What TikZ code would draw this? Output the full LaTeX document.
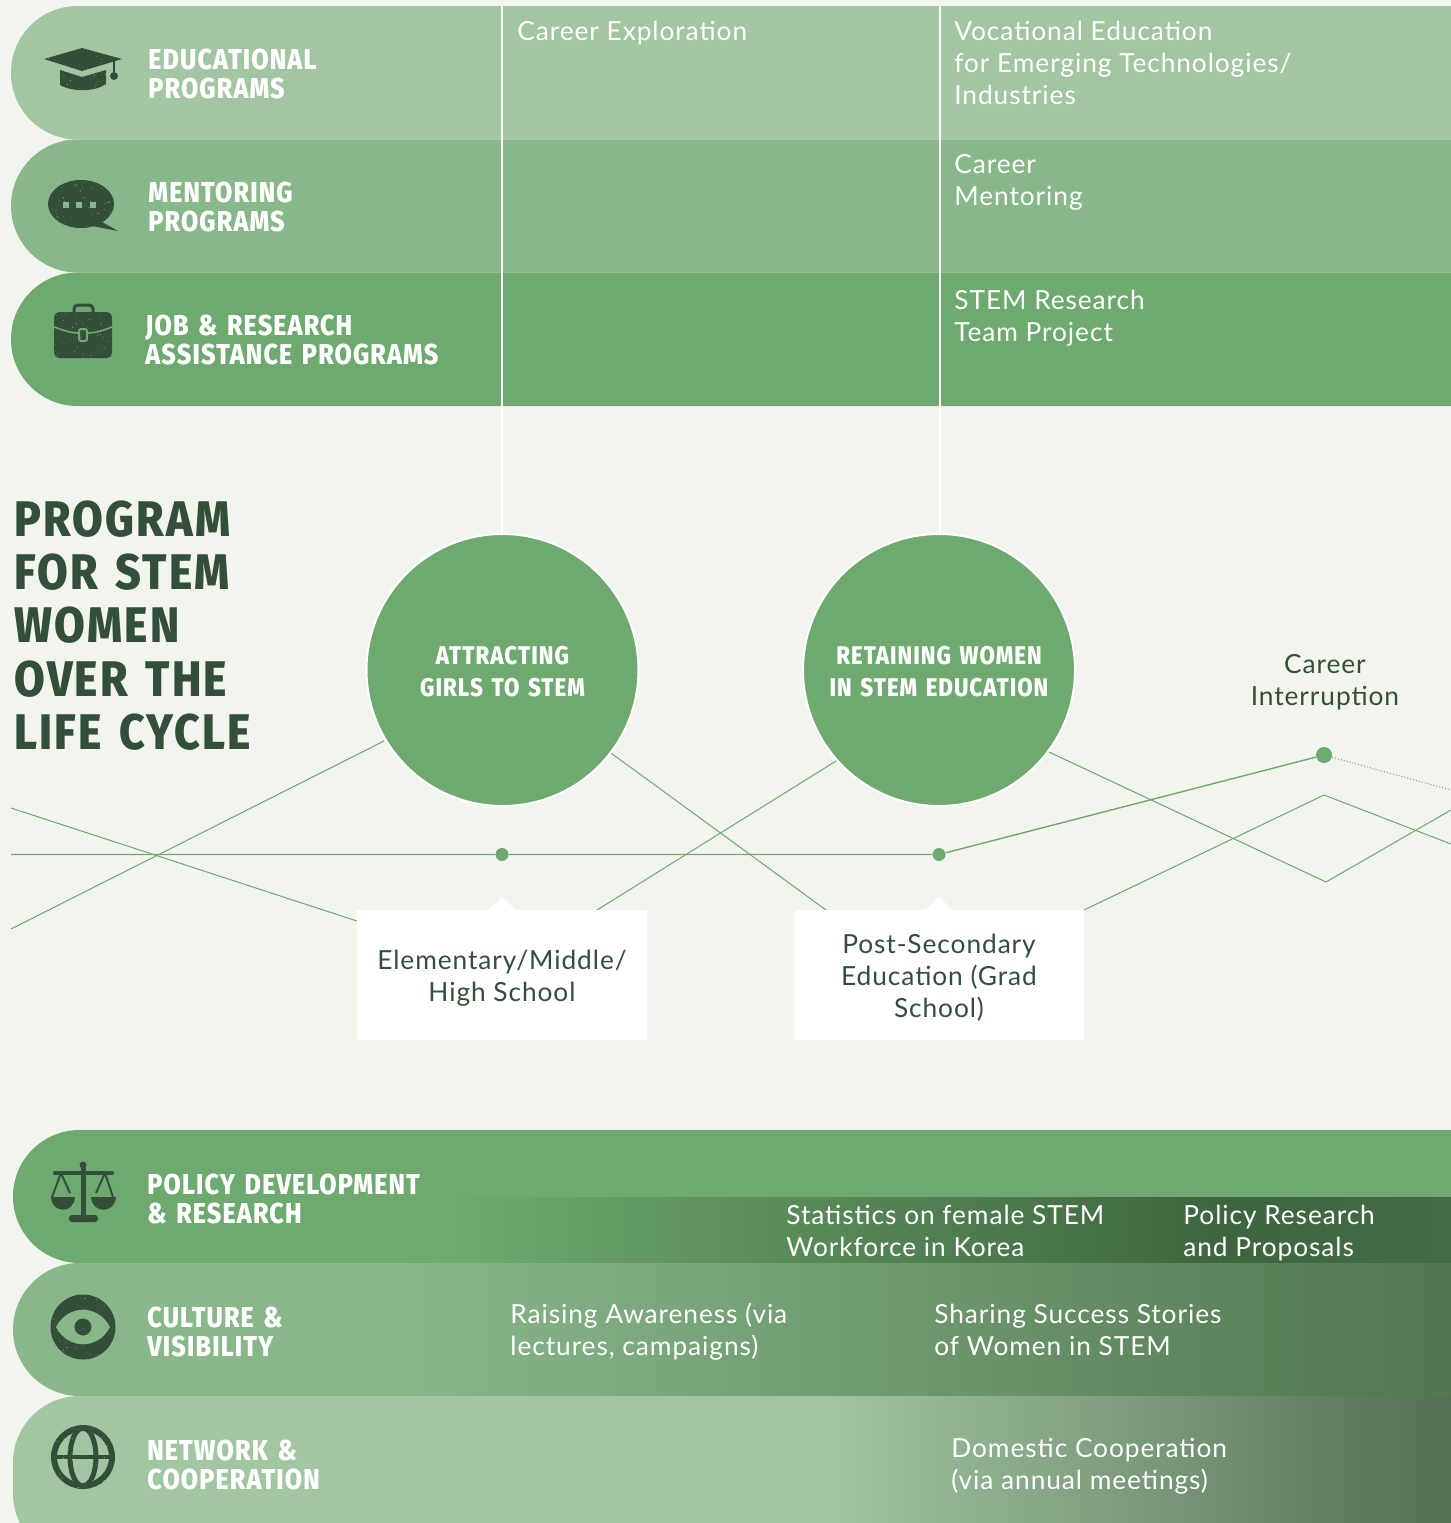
\documentclass[tikz,border=0pt]{standalone}
\usepackage{fontspec}
\usepackage{xcolor}
\usetikzlibrary{positioning,calc,shapes.misc}
\setmainfont[LetterSpace=3.5]{Lato}
\newfontfamily\headfont[FakeStretch=0.87,LetterSpace=4,WordSpace=1.4]{Fira Sans ExtraBold}
\newfontfamily\bigheadfont[FakeStretch=0.89,LetterSpace=4.5,WordSpace=1.4]{Fira Sans ExtraBold}
\definecolor{pagebg}{HTML}{F2F5EE}
\definecolor{bandlight}{HTML}{A2C5A2}
\definecolor{bandmid}{HTML}{88B78A}
\definecolor{bandfull}{HTML}{6EA96F}
\definecolor{inkdark}{HTML}{344F39}
\definecolor{shadedark}{HTML}{3E653E}
\definecolor{shadeend}{HTML}{436C45}
\definecolor{shadegreen}{HTML}{527650}
\definecolor{shadegrey}{HTML}{546F54}
\tikzset{
    band/.style={rounded corners=33.25pt},
    bandtitle/.style={anchor=west, inner sep=0, align=left, text=white, font=\headfont\fontsize{14.4}{14.5}\selectfont},
    bandtext/.style={anchor=west, inner sep=0, align=left, text=white, font=\fontsize{13.15}{16}\selectfont},
    darktext/.style={inner sep=0, align=center, text=inkdark, font=\fontsize{13.15}{16}\selectfont},
    stagedot/.style={circle, fill=bandfull, inner sep=0, minimum size=6.5pt},
    stagecircle/.style={circle, fill=bandfull, draw=white, line width=1pt, minimum size=136pt, inner sep=0, align=center, text=white, font=\headfont\fontsize{12.8}{16}\selectfont},
    stagebox/.style={fill=white, minimum width=145pt, minimum height=65pt, inner sep=0},
    lifeline/.style={bandfull, line width=0.5pt},
    icon/.style={fill=inkdark, draw=none},
}
% speckles in the band colour over an icon: x, y, width, height, colour
\newcommand{\speckle}[5]{%
    \foreach \n in {1,...,45}
        \fill[#5] ({#1+#3*rnd},{#2+#4*rnd}) circle (0.25+0.35*rnd);
}
\begin{document}
\begin{tikzpicture}[x=0.5pt, y=-0.5pt]
    \pgfmathsetseed{7}
    \useasboundingbox (0,0) rectangle (1451,1523);
    \clip (0,0) rectangle (1451,1523);
    \fill[pagebg] (0,0) rectangle (1451,1523);

    % Upper bands
    \fill[band, bandlight] (11,6) rectangle (1600,139.5);
    \fill[band, bandmid] (11,139.5) rectangle (1600,272.5);
    \fill[band, bandfull] (11,272.5) rectangle (1600,406);

    % Lower bands
    \fill[band, bandfull] (13,1130) rectangle (1600,1263);
    \fill[left color=bandfull, right color=shadedark] (450,1197) rectangle (1230,1263);
    \fill[left color=shadedark, right color=shadeend] (1229,1197) rectangle (1451,1263);
    \fill[band, bandmid] (13,1263) rectangle (1600,1396);
    \fill[left color=bandmid, right color=shadegreen] (400,1263) rectangle (1451,1396);
    \fill[band, bandlight] (13,1396) rectangle (1600,1560);
    \fill[left color=bandlight, right color=shadegrey] (825,1396) rectangle (1451,1523);

    % Named points
    \coordinate (top1) at (502,6);
    \coordinate (top2) at (940,6);
    \coordinate (a1) at (11,808);
    \coordinate (a2) at (357,921);
    \coordinate (b1) at (11,929);
    \coordinate (b2) at (384,741);
    \coordinate (c1) at (611,753);
    \coordinate (c2) at (826,910);
    \coordinate (d1) at (597,910);
    \coordinate (d2) at (836,761);
    \coordinate (e1) at (1049,752);
    \coordinate (e2) at (1326,882);
    \coordinate (e3) at (1451,810);
    \coordinate (f1) at (1084,910);
    \coordinate (f2) at (1324,795);
    \coordinate (f3) at (1451,844);
    \coordinate (m0) at (11,854.5);
    \coordinate (m4) at (1451,790);

    % Stages
    \node[stagecircle] (attract) at (502.5,670) {\rule{0pt}{11pt}ATTRACTING\\GIRLS TO STEM};
    \node[stagecircle] (retain) at (939,670) {\rule{0pt}{11pt}RETAINING WOMEN\\IN STEM EDUCATION};
    \node[stagedot] (dot1) at (502,854.5) {};
    \node[stagedot] (dot2) at (939,854.5) {};
    \node[stagedot, minimum size=8pt] (dot3) at (1324,755) {};

    \draw[white, line width=1.4pt] (top1) -- (top1 |- attract.north);
    \draw[white, line width=1.4pt] (top2) -- (top2 |- retain.north);

    \draw[lifeline] (a1) -- (a2);
    \draw[lifeline] (b1) -- (b2);
    \draw[lifeline] (c1) -- (c2);
    \draw[lifeline] (d1) -- (d2);
    \draw[lifeline] (e1) -- (e2) -- (e3);
    \draw[lifeline] (f1) -- (f2) -- (f3);
    \draw[lifeline, line width=0.7pt] (m0) -- (dot1) -- (dot2) -- (dot3);
    \draw[lifeline, densely dotted] (dot3) -- (m4);

    \node[stagebox] (school) at (502,975) {};
    \node[stagebox, minimum width=144.5pt] (grad) at (939.5,975) {};
    \fill[white] (487,911) -- (502,897) -- (517,911) -- cycle;
    \fill[white] (924,911) -- (939,897) -- (954,911) -- cycle;
    \node[darktext] (schooltext) at (502,978.5) {Elementary/Middle/\\High School};
    \node[darktext] (gradtext) at (939,978) {Post-Secondary\\Education (Grad\\School)};
    \node[darktext] (pause) at (1325,682.5) {Career\\Interruption};

    % Heading
    \node[inner sep=0, anchor=west, align=left, text=inkdark, font=\bigheadfont\fontsize{25}{26.7}\selectfont] (heading) at (14,625.5) {PROGRAM\\FOR STEM\\WOMEN\\OVER THE\\LIFE CYCLE};

    % Band titles
    \node[bandtitle] (edu) at (148,73.5) {EDUCATIONAL\\PROGRAMS};
    \node[bandtitle] (mentor) at (148,207) {MENTORING\\PROGRAMS};
    \node[bandtitle] (job) at (145,339.5) {JOB \& RESEARCH\\ASSISTANCE PROGRAMS};
    \node[bandtitle] (policy) at (147,1198.5) {POLICY DEVELOPMENT\\\& RESEARCH};
    \node[bandtitle] (culture) at (147,1331.5) {CULTURE \&\\VISIBILITY};
    \node[bandtitle] (network) at (147,1465) {NETWORK \&\\COOPERATION};

    % Band texts
    \node[bandtext] (explore) at (517,33) {Career Exploration};
    \node[bandtext] (vocation) at (954,63) {Vocational Education\\for Emerging Technologies/\\Industries};
    \node[bandtext] (careermentor) at (954,182) {Career\\Mentoring};
    \node[bandtext] (team) at (954,318) {STEM Research\\Team Project};
    \node[bandtext] (stats) at (786,1231) {Statistics on female STEM\\Workforce in Korea};
    \node[bandtext] (proposals) at (1183,1233) {Policy Research\\and Proposals};
    \node[bandtext] (aware) at (510,1332) {Raising Awareness (via\\lectures, campaigns)};
    \node[bandtext] (stories) at (934,1330) {Sharing Success Stories\\of Women in STEM};
    \node[bandtext] (domestic) at (951,1466) {Domestic Cooperation\\(via annual meetings)};

    % Cap icon
    \fill[icon] (44,59) -- (82,48) -- (122,59) -- (82,71) -- cycle;
    \fill[icon] (60,70) -- (82,77) -- (106,70) -- (106,84) .. controls (95,92) and (72,92) .. (60,85) -- cycle;
    \draw[inkdark, line width=1pt] (114,60) -- (114,74);
    \fill[icon] (114,76) circle (4);
    \speckle{48}{50}{60}{40}{bandlight}

    % Bubble icon
    \fill[icon] (81,204) ellipse (33 and 24);
    \fill[icon] (102,222) -- (118,231) -- (92,226) -- cycle;
    \foreach \dotx in {66,79,93}
        \fill[bandmid] (\dotx-3,202) rectangle (\dotx+3,208);
    \speckle{50}{182}{62}{46}{bandmid}

    % Briefcase icon
    \fill[icon, rounded corners=2.5pt] (54,312) rectangle (112,358);
    \draw[inkdark, line width=1.5pt, rounded corners=2pt] (74,313) -- (74,305) -- (93,305) -- (93,313);
    \draw[bandfull, line width=0.8pt] (54,327) .. controls (65,331) and (72,333) .. (78,333);
    \draw[bandfull, line width=0.8pt] (88,333) .. controls (94,333) and (102,331) .. (112,327);
    \draw[bandfull, line width=1pt, rounded corners=1pt] (79,329) rectangle (87,341);
    \speckle{55}{313}{56}{44}{bandfull}

    % Scales icon
    \draw[inkdark, line width=2.2pt, line cap=round] (55,1173) -- (112,1173);
    \fill[icon] (83,1165) circle (3.5);
    \draw[inkdark, line width=2.5pt] (83,1165) -- (83,1218);
    \fill[icon, rounded corners=1.5pt] (69,1215) rectangle (98,1222);
    \draw[inkdark, line width=1pt] (52,1197) -- (61,1173) -- (70,1193);
    \draw[inkdark, line width=1pt] (96,1193) -- (105,1173) -- (113,1197);
    \fill[icon] (51,1197) .. controls (52,1214) and (74,1214) .. (75,1197) -- cycle;
    \fill[icon] (91,1197) .. controls (92,1214) and (115,1214) .. (116,1197) -- cycle;

    % Eye icon
    \fill[icon] (83,1327) circle (32.5);
    \fill[bandmid] (56,1327) .. controls (68,1304) and (98,1304) .. (110,1327) .. controls (98,1350) and (68,1350) .. (56,1327) -- cycle;
    \fill[icon] (83,1327) circle (8.5);
    \speckle{52}{1296}{62}{62}{bandmid}

    % Globe icon
    \draw[inkdark, line width=3pt] (83,1457) circle (29);
    \draw[inkdark, line width=2.5pt] (83,1457) ellipse (13 and 29);
    \draw[inkdark, line width=2.2pt] (54,1457) -- (112,1457);
    \speckle{52}{1426}{62}{62}{bandlight}
\end{tikzpicture}
\end{document}
